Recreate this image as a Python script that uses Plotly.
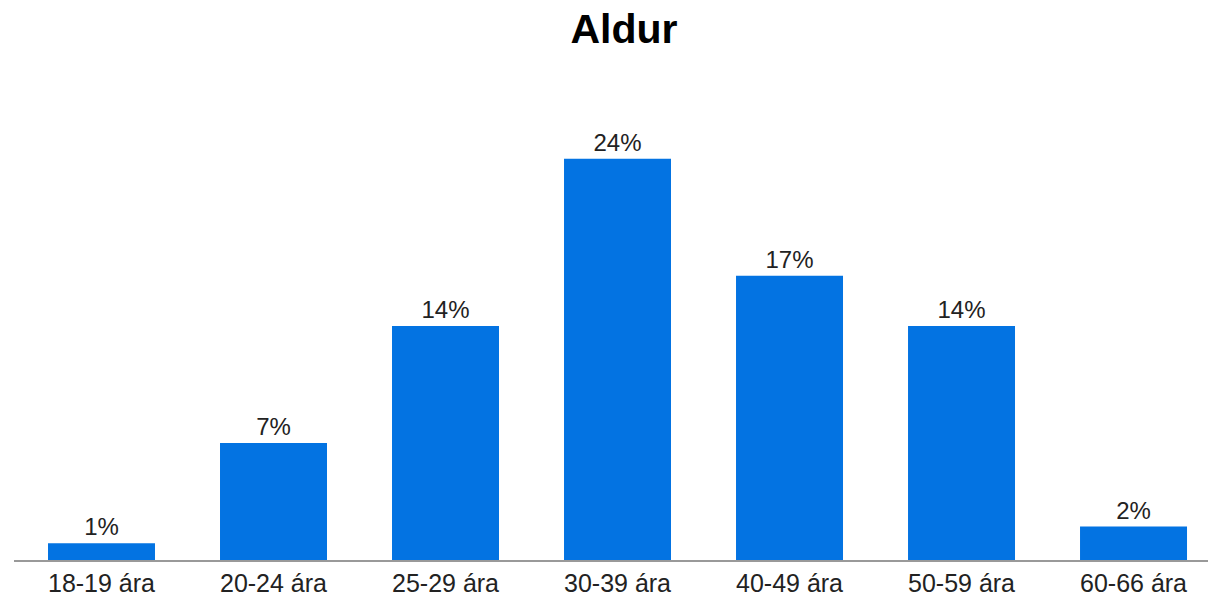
import plotly.graph_objects as go

categories = ["18-19 ára", "20-24 ára", "25-29 ára", "30-39 ára", "40-49 ára", "50-59 ára", "60-66 ára"]
shares = [1, 7, 14, 24, 17, 14, 2]
labels = [f"{v}%" for v in shares]

fig = go.Figure(
    go.Bar(
        x=categories,
        y=shares,
        text=labels,
        textposition="outside",
        textfont=dict(family="Liberation Sans, Arial, sans-serif", size=24, color="#222222"),
        marker=dict(color="#0373E2", line=dict(width=0)),
        width=0.622,
        cliponaxis=False,
        hoverinfo="x+y",
    )
)

fig.update_layout(
    width=1208,
    height=600,
    margin=dict(l=14, r=0, t=100, b=40),
    paper_bgcolor="white",
    plot_bgcolor="white",
    showlegend=False,
    title=dict(
        text="<b>Aldur</b>",
        x=624 / 1208,
        xanchor="center",
        y=1 - 29 / 600,
        yanchor="middle",
        yref="container",
        font=dict(family="Liberation Sans, Arial, sans-serif", size=41, color="#000000"),
    ),
)

fig.update_xaxes(
    range=[-0.5087, 6.433],
    showline=True,
    linecolor="#999999",
    linewidth=2,
    showgrid=False,
    ticks="",
    tickfont=dict(family="Liberation Sans, Arial, sans-serif", size=25, color="#222222"),
    fixedrange=True,
)
fig.update_yaxes(
    range=[0, 460 / 16.72],
    showgrid=False,
    showticklabels=False,
    zeroline=False,
    showline=False,
    fixedrange=True,
)

fig.write_html("out.html")
